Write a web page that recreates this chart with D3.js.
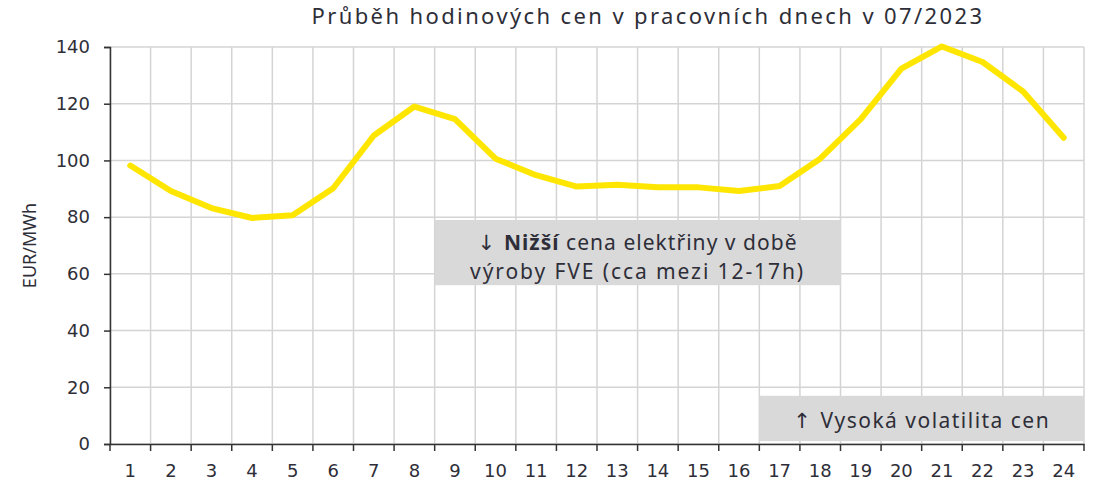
<!DOCTYPE html>
<html>
<head>
<meta charset="utf-8">
<script src="https://cdn.jsdelivr.net/npm/d3@7"></script>
<style>
    body { margin: 0; background: #fff; }
    svg { display: block; }
    .tick text { font-family: "DejaVu Sans", Verdana, sans-serif; font-size: 18px; fill: #2e2e38; }
</style>
</head>
<body>
<svg id="chart" width="1097" height="486"></svg>
<script>
// hours of the day and average workday hourly price (EUR/MWh), 07/2023
var hours = d3.range(1, 25);
var prices = [98.2, 89.2, 83.2, 79.7, 80.7, 90.2, 108.8, 119.0, 114.6, 100.6, 94.8, 90.8,
              91.4, 90.5, 90.5, 89.2, 91.0, 100.6, 114.6, 132.4, 140.2, 134.7, 124.3, 108.0];
var yTicks = [0, 20, 40, 60, 80, 100, 120, 140];
var titleText = "Průběh hodinových cen v pracovních dnech v 07/2023";
var yLabel = "EUR/MWh";

var svg = d3.select("#chart");
var margin = {top: 47, right: 13, bottom: 42, left: 110},
    width = 1097 - margin.left - margin.right,
    height = 486 - margin.top - margin.bottom;

var g = svg.append("g")
    .attr("transform", "translate(" + margin.left + "," + margin.top + ")");

var x = d3.scaleBand().domain(hours).range([0, width]);
var y = d3.scaleLinear().domain([0, 140]).range([height, 0]);

var textColor = "#2e2e38";
var gridColor = "#d4d4d4";
var annFont = "'Noto Sans', 'Open Sans', sans-serif";

// stretch a text to a wanted width with letter spacing (the original font is wider)
function fitText(sel, target) {
    var node = sel.node();
    var len = node.getComputedTextLength();
    var n = node.textContent.length;
    sel.style("letter-spacing", ((target - len) / n) + "px");
}

// horizontal gridlines
g.selectAll(".hgrid")
    .data(yTicks)
    .enter().append("line")
    .attr("x1", 0).attr("x2", width)
    .attr("y1", d => y(d)).attr("y2", d => y(d))
    .attr("stroke", gridColor)
    .attr("stroke-width", 1.5);

// vertical gridlines at band boundaries
var bounds = hours.map(h => x(h)).concat([width]);
g.selectAll(".vgrid")
    .data(bounds)
    .enter().append("line")
    .attr("x1", d => d).attr("x2", d => d)
    .attr("y1", 0).attr("y2", height)
    .attr("stroke", gridColor)
    .attr("stroke-width", 1.5);

// annotation boxes (hour spans from the band scale)
var boxes = [
    {from: 9, to: 18, top: 79, bottom: 56},
    {from: 17, to: 24, top: 17, bottom: 1}
];
g.selectAll(".box")
    .data(boxes)
    .enter().append("rect")
    .attr("x", d => x(d.from))
    .attr("width", d => x(d.to) + x.bandwidth() - x(d.from))
    .attr("y", d => y(d.top))
    .attr("height", d => y(d.bottom) - y(d.top))
    .attr("fill", "#d9d9d9");

var b1x = (x(9) + x(18) + x.bandwidth()) / 2;
var t1 = g.append("text")
    .attr("x", b1x).attr("y", y(79) + 30)
    .attr("text-anchor", "middle")
    .style("font-family", annFont).style("font-size", "21px").style("fill", textColor);
t1.append("tspan").style("font-family", "'DejaVu Sans', sans-serif").text("↓ ");
t1.append("tspan").style("font-weight", "bold").text("Nižší");
t1.append("tspan").text(" cena elektřiny v době");
fitText(t1, 320);
var t2 = g.append("text")
    .attr("x", b1x).attr("y", y(79) + 59)
    .attr("text-anchor", "middle")
    .style("font-family", annFont).style("font-size", "21px").style("fill", textColor)
    .text("výroby FVE (cca mezi 12-17h)");
fitText(t2, 335);

var b2x = (x(17) + x(24) + x.bandwidth()) / 2;
var t3 = g.append("text")
    .attr("x", b2x).attr("y", y(17) + 32)
    .attr("text-anchor", "middle")
    .style("font-family", annFont).style("font-size", "21px").style("fill", textColor);
t3.append("tspan").style("font-family", "'DejaVu Sans', sans-serif").text("↑ ");
t3.append("tspan").text("Vysoká volatilita cen");
fitText(t3, 257);

// price line
var line = d3.line()
    .x((d, i) => x(hours[i]) + x.bandwidth() / 2)
    .y(d => y(d));
g.append("path")
    .datum(prices)
    .attr("d", line)
    .attr("fill", "none")
    .attr("stroke", "#ffe600")
    .attr("stroke-width", 6)
    .attr("stroke-linejoin", "round")
    .attr("stroke-linecap", "round");

// y axis
var yAxis = g.append("g")
    .call(d3.axisLeft(y).tickValues(yTicks).tickSize(6).tickPadding(14));
yAxis.select(".domain").attr("stroke", "#333").attr("stroke-width", 1.5);
yAxis.selectAll(".tick line").attr("stroke", "#333").attr("stroke-width", 1.5);

// x axis: labels centred in bands, ticks on boundaries
var xAxis = g.append("g")
    .attr("transform", "translate(0," + height + ")")
    .call(d3.axisBottom(x).tickSize(0).tickPadding(20));
xAxis.select(".domain").attr("stroke", "#333").attr("stroke-width", 1.5);
xAxis.selectAll(".bound")
    .data(bounds)
    .enter().append("line")
    .attr("x1", d => d).attr("x2", d => d)
    .attr("y1", 0).attr("y2", 7)
    .attr("stroke", "#333")
    .attr("stroke-width", 1.5);

// title
var title = svg.append("text")
    .attr("x", 648).attr("y", 24)
    .attr("text-anchor", "middle")
    .style("font-family", annFont).style("font-size", "22px").style("fill", textColor)
    .text(titleText);
fitText(title, 673);

// y axis label
svg.append("text")
    .attr("transform", "translate(36," + (margin.top + height / 2) + ") rotate(-90)")
    .attr("text-anchor", "middle")
    .style("font-family", annFont).style("font-size", "18px").style("fill", textColor)
    .text(yLabel);
</script>
</body>
</html>
